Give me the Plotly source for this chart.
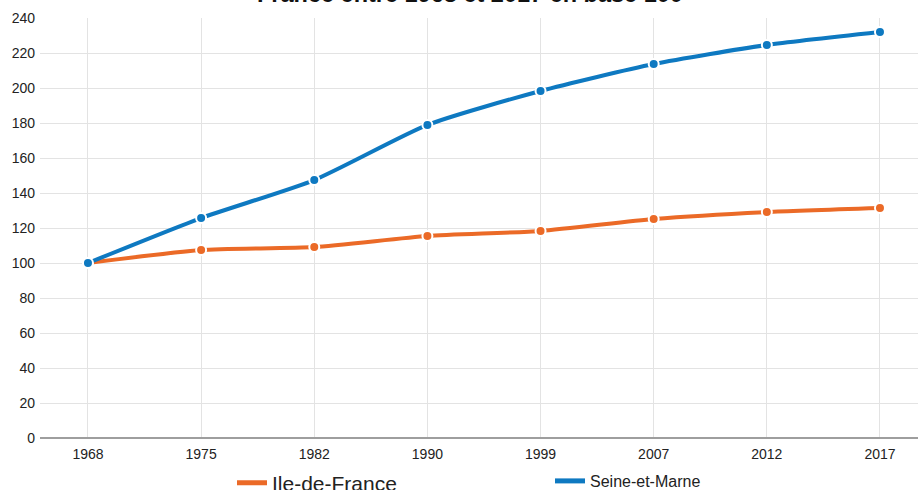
import plotly.graph_objects as go

years = ["1968", "1975", "1982", "1990", "1999", "2007", "2012", "2017"]
idf = [100, 107.4, 109.1, 115.4, 118.3, 125.1, 129.1, 131.4]
sem = [100, 125.7, 147.4, 178.9, 198.3, 213.7, 224.6, 232.0]
y_ticks = [0, 20, 40, 60, 80, 100, 120, 140, 160, 180, 200, 220, 240]

ORANGE = "#EB6A27"
BLUE = "#0E79C1"

fig = go.Figure()
for name, vals, col, lg in [("Ile-de-France", idf, ORANGE, "legend"),
                            ("Seine-et-Marne", sem, BLUE, "legend2")]:
    fig.add_trace(go.Scatter(
        x=years, y=vals, name=name, mode="lines+markers",
        line=dict(color=col, width=4, shape="spline", smoothing=0.6),
        marker=dict(size=10, color=col, line=dict(color="white", width=2)),
        showlegend=False,
    ))
    # legend-only entry (line symbol only)
    fig.add_trace(go.Scatter(
        x=[None], y=[None], name=name, mode="lines",
        line=dict(color=col, width=5), legend=lg, showlegend=True,
    ))

fig.update_layout(
    width=921, height=490,
    margin=dict(l=40, r=3, t=18, b=52, autoexpand=False),
    paper_bgcolor="white", plot_bgcolor="white",
    font=dict(family="Liberation Sans, Arial, sans-serif", color="#222222", size=14),
    xaxis=dict(
        type="category", range=[-0.424, 7.336], automargin=False,
        showgrid=True, gridcolor="#e3e3e3", gridwidth=1,
        showline=False, zeroline=False, ticks="", ticklabelstandoff=6,
        tickfont=dict(size=14, color="#222222"),
    ),
    yaxis=dict(
        range=[0, 240], tickvals=y_ticks, ticktext=[str(v) for v in y_ticks],
        automargin=False,
        showgrid=True, gridcolor="#e3e3e3", gridwidth=1,
        zeroline=True, zerolinecolor="#9e9e9e", zerolinewidth=2,
        showline=False, ticks="", ticklabelstandoff=4,
        tickfont=dict(size=14, color="#222222"),
    ),
    legend=dict(
        xref="container", yref="container",
        x=232 / 921, y=1 - 483 / 490, xanchor="left", yanchor="middle",
        orientation="h", bgcolor="rgba(0,0,0,0)",
        font=dict(family="Liberation Sans, Arial, sans-serif", size=21, color="#222222"),
    ),
    legend2=dict(
        xref="container", yref="container",
        x=550 / 921, y=1 - 481 / 490, xanchor="left", yanchor="middle",
        orientation="h", bgcolor="rgba(0,0,0,0)",
        font=dict(family="Liberation Sans, Arial, sans-serif", size=16, color="#222222"),
    ),
    annotations=[dict(
        text="<b>France entre 1968 et 2017 en base 100</b>",
        x=(470 - 40) / 878, y=1 + 24 / 420, xref="paper", yref="paper",
        xanchor="center", yanchor="middle", showarrow=False,
        font=dict(family="Liberation Sans, Arial, sans-serif", size=23.5, color="#111111"),
    )],
)

fig.write_html("out.html", config={"displayModeBar": False},
               post_script="document.body.style.margin='0';")
